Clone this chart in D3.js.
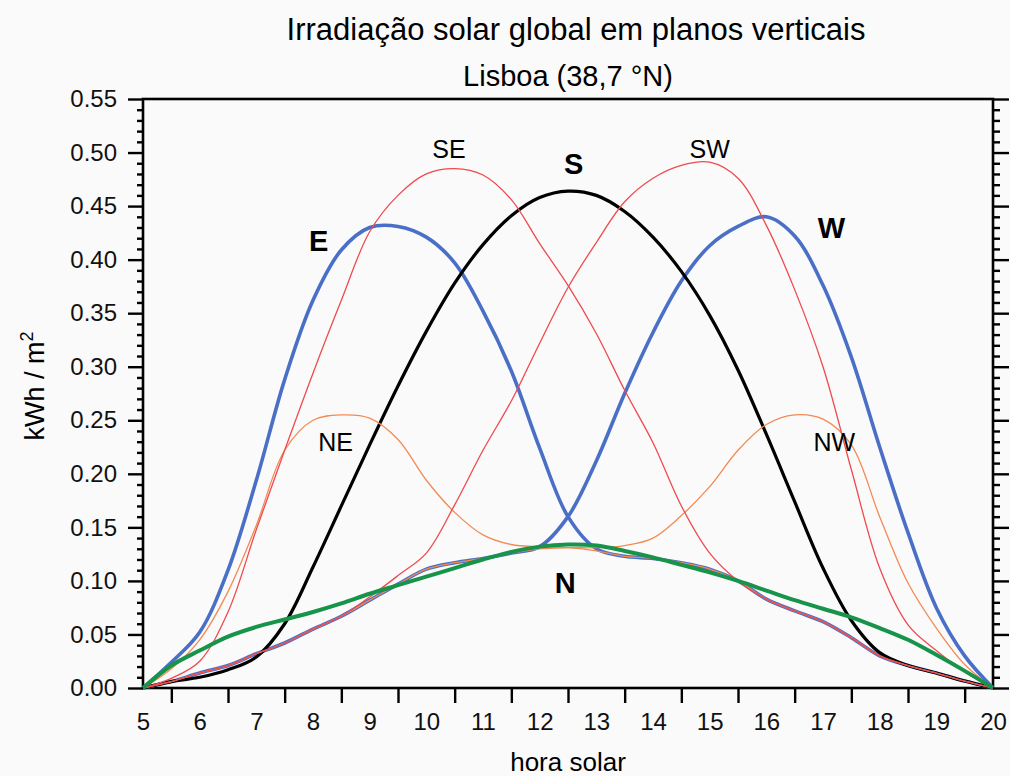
<!DOCTYPE html>
<html>
<head>
<meta charset="utf-8">
<script src="https://cdn.jsdelivr.net/npm/d3@7"></script>
<style>
  body { margin: 0; background: #fafafa; }
  svg { font-family: "Liberation Sans", Arial, sans-serif; }
  .domain { display: none; }
  .tick line { stroke: #000; stroke-width: 2.4px; }
  .tick text { fill: #111; font-size: 24px; }
</style>
</head>
<body>
<div id="chart"></div>
<script>
// solar time, half-hour steps
var hours = [5, 5.5, 6, 6.5, 7, 7.5, 8, 8.5, 9, 9.5, 10, 10.5, 11, 11.5, 12, 12.5,
             13, 13.5, 14, 14.5, 15, 15.5, 16, 16.5, 17, 17.5, 18, 18.5, 19, 19.5, 20];

// kWh / m2
var valS  = [0, 0.006, 0.010, 0.017, 0.029, 0.060, 0.113, 0.170, 0.227, 0.282, 0.333, 0.378, 0.414, 0.441, 0.458, 0.464,
             0.460, 0.445, 0.421, 0.389, 0.348, 0.297, 0.237, 0.174, 0.112, 0.063, 0.033, 0.021, 0.014, 0.0065, 0];
var valE  = [0, 0.024, 0.052, 0.110, 0.194, 0.288, 0.362, 0.409, 0.430, 0.431, 0.421, 0.397, 0.352, 0.296, 0.224, 0.160,
             0.130, 0.123, 0.121, 0.117, 0.111, 0.100, 0.083, 0.072, 0.062, 0.047, 0.030, 0.021, 0.014, 0.0065, 0];
var valW  = [0, 0.006, 0.014, 0.021, 0.032, 0.042, 0.055, 0.067, 0.082, 0.097, 0.111, 0.117, 0.121, 0.126, 0.132, 0.160,
             0.212, 0.275, 0.332, 0.380, 0.413, 0.431, 0.440, 0.422, 0.376, 0.309, 0.225, 0.145, 0.075, 0.030, 0];
var valSE = [0, 0.009, 0.025, 0.071, 0.148, 0.222, 0.294, 0.362, 0.426, 0.460, 0.480, 0.485, 0.479, 0.456, 0.415, 0.376,
             0.331, 0.278, 0.229, 0.170, 0.126, 0.100, 0.083, 0.072, 0.062, 0.047, 0.030, 0.021, 0.014, 0.0065, 0];
var valSW = [0, 0.006, 0.014, 0.021, 0.032, 0.042, 0.055, 0.067, 0.085, 0.105, 0.126, 0.171, 0.222, 0.268, 0.322, 0.374,
             0.416, 0.454, 0.476, 0.488, 0.491, 0.476, 0.432, 0.372, 0.300, 0.204, 0.112, 0.059, 0.035, 0.015, 0];
var valNE = [0, 0.018, 0.045, 0.090, 0.152, 0.222, 0.250, 0.255, 0.252, 0.232, 0.194, 0.164, 0.143, 0.134, 0.132, 0.131,
             0.128, 0.123, 0.121, 0.117, 0.111, 0.100, 0.083, 0.072, 0.062, 0.047, 0.030, 0.021, 0.014, 0.0065, 0];
var valNW = [0, 0.006, 0.014, 0.021, 0.032, 0.042, 0.055, 0.067, 0.082, 0.097, 0.111, 0.117, 0.121, 0.126, 0.130, 0.131,
             0.131, 0.133, 0.140, 0.161, 0.188, 0.222, 0.246, 0.255, 0.251, 0.227, 0.160, 0.098, 0.056, 0.022, 0];
var valN  = [0, 0.021, 0.035, 0.048, 0.057, 0.064, 0.071, 0.079, 0.088, 0.096, 0.104, 0.112, 0.120, 0.127, 0.132, 0.134,
             0.133, 0.128, 0.122, 0.115, 0.108, 0.100, 0.091, 0.082, 0.074, 0.066, 0.056, 0.045, 0.031, 0.016, 0];

var xTickLabels = [5, 6, 7, 8, 9, 10, 11, 12, 13, 14, 15, 16, 17, 18, 19, 20];
var xTickMarks  = [5.5, 6.5, 7.5, 8.5, 9.5, 10.5, 11.5, 12.5, 13.5, 14.5, 15.5, 16.5, 17.5, 18.5, 19.5];
var yMajor = [0, 0.05, 0.10, 0.15, 0.20, 0.25, 0.30, 0.35, 0.40, 0.45, 0.50, 0.55];
var yMinor = [0.01, 0.02, 0.03, 0.04, 0.06, 0.07, 0.08, 0.09, 0.11, 0.12, 0.13, 0.14, 0.16, 0.17, 0.18, 0.19,
              0.21, 0.22, 0.23, 0.24, 0.26, 0.27, 0.28, 0.29, 0.31, 0.32, 0.33, 0.34, 0.36, 0.37, 0.38, 0.39,
              0.41, 0.42, 0.43, 0.44, 0.46, 0.47, 0.48, 0.49, 0.51, 0.52, 0.53, 0.54];

// draw order: thick first, thin on top, green last
var series = [
	{name: 'E',  vals: valE,  color: '#4a6fc6', w: 3.6},
	{name: 'W',  vals: valW,  color: '#4a6fc6', w: 3.6},
	{name: 'S',  vals: valS,  color: '#000000', w: 3.2},
	{name: 'NE', vals: valNE, color: '#f38a52', w: 1.3},
	{name: 'NW', vals: valNW, color: '#f38a52', w: 1.3},
	{name: 'SE', vals: valSE, color: '#ef4a4f', w: 1.3},
	{name: 'SW', vals: valSW, color: '#ef4a4f', w: 1.3},
	{name: 'N',  vals: valN,  color: '#17934a', w: 4}
];

var labels = [
	{t: 'E',  h: 8.1,   v: 0.408, bold: true},
	{t: 'W',  h: 17.15, v: 0.420, bold: true},
	{t: 'S',  h: 12.6,  v: 0.480, bold: true},
	{t: 'N',  h: 12.45, v: 0.089, bold: true},
	{t: 'SE', h: 10.4,  v: 0.495, bold: false},
	{t: 'SW', h: 15.0,  v: 0.495, bold: false},
	{t: 'NE', h: 8.4,   v: 0.221, bold: false},
	{t: 'NW', h: 17.2,  v: 0.221, bold: false}
];

var width = 1010, height = 776;
var margin = {top: 99, right: 17, bottom: 88, left: 143};
var iw = width - margin.left - margin.right;
var ih = height - margin.top - margin.bottom;

var svg = d3.select('#chart').append('svg')
	.attr('width', width)
	.attr('height', height);

var g = svg.append('g').attr('transform', 'translate(' + margin.left + ',' + margin.top + ')');

var x = d3.scaleLinear().domain([5, 20]).range([0, iw]);
var y = d3.scaleLinear().domain([0, 0.55]).range([ih, 0]);

// frame
g.append('rect')
	.attr('width', iw).attr('height', ih)
	.attr('fill', '#fafafa')
	.attr('stroke', '#000').attr('stroke-width', 2.6);

// curves
var line = d3.line()
	.x(function(d) { return x(d[0]); })
	.y(function(d) { return y(Math.max(0, d[1])); })
	.curve(d3.curveCatmullRom.alpha(0.5));

series.forEach(function(s) {
	g.append('path')
		.datum(hours.map(function(h, i) { return [h, s.vals[i]]; }))
		.attr('fill', 'none')
		.attr('stroke', s.color)
		.attr('stroke-width', s.w)
		.attr('stroke-linejoin', 'round')
		.attr('d', line);
});

// left axis
g.append('g')
	.call(d3.axisLeft(y).tickValues(yMinor).tickSize(6).tickFormat(''));
g.append('g')
	.call(d3.axisLeft(y).tickValues(yMajor).tickSize(15).tickPadding(11).tickFormat(d3.format('.2f')));

// right axis
g.append('g').attr('transform', 'translate(' + iw + ',0)')
	.call(d3.axisRight(y).tickValues(yMinor).tickSize(7).tickFormat(''));
g.append('g').attr('transform', 'translate(' + iw + ',0)')
	.call(d3.axisRight(y).tickValues(yMajor).tickSize(16).tickFormat(''));

// bottom axis: marks at half hours, labels at whole hours
g.append('g').attr('transform', 'translate(0,' + ih + ')')
	.call(d3.axisBottom(x).tickValues(xTickMarks).tickSize(15).tickFormat(''));
g.append('g').attr('transform', 'translate(0,' + ih + ')')
	.call(d3.axisBottom(x).tickValues(xTickLabels).tickSize(0).tickPadding(25).tickFormat(d3.format('d')))
	.selectAll('.tick line').remove();

// direction labels
g.selectAll('text.dir').data(labels).enter()
	.append('text')
	.attr('class', 'dir')
	.attr('x', function(d) { return x(d.h); })
	.attr('y', function(d) { return y(d.v); })
	.attr('text-anchor', 'middle')
	.style('font-size', function(d) { return d.bold ? '29px' : '25px'; })
	.style('font-weight', function(d) { return d.bold ? 'bold' : 'normal'; })
	.text(function(d) { return d.t; });

// titles
svg.append('text')
	.attr('x', 576).attr('y', 40)
	.attr('text-anchor', 'middle')
	.style('font-size', '31px')
	.text('Irradiação solar global em planos verticais');
svg.append('text')
	.attr('x', 568).attr('y', 86)
	.attr('text-anchor', 'middle')
	.style('font-size', '29px')
	.text('Lisboa (38,7 °N)');

// axis titles
svg.append('text')
	.attr('x', 568).attr('y', 771)
	.attr('text-anchor', 'middle')
	.style('font-size', '26px')
	.text('hora solar');

var yl = svg.append('text')
	.attr('transform', 'translate(44,386) rotate(-90)')
	.attr('text-anchor', 'middle')
	.style('font-size', '27px');
yl.append('tspan').text('kWh / m');
yl.append('tspan').attr('dy', -11).style('font-size', '18px').text('2');
</script>
</body>
</html>
